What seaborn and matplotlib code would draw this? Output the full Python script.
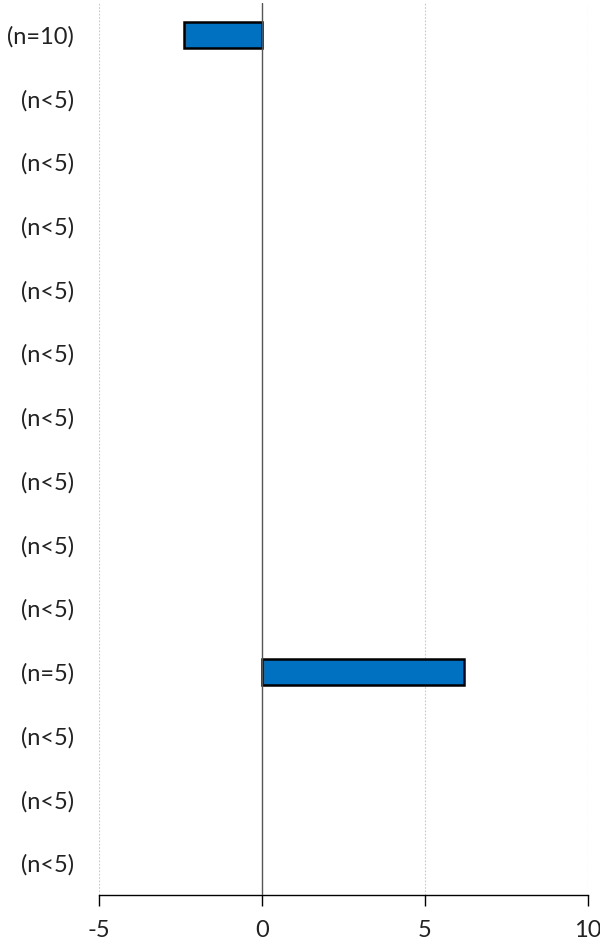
import matplotlib
matplotlib.use("Agg")
import matplotlib.pyplot as plt
import seaborn as sns
import pandas as pd

labels = ["(n=10)", "(n<5)", "(n<5)", "(n<5)", "(n<5)", "(n<5)", "(n<5)",
          "(n<5)", "(n<5)", "(n<5)", "(n=5)", "(n<5)", "(n<5)", "(n<5)"]
values = [-2.4, 0, 0, 0, 0, 0, 0, 0, 0, 0, 6.2, 0, 0, 0]
xticks = [-5, 0, 5, 10]

sns.set_theme(style="white")
plt.rcParams['font.family'] = ['Lato', 'DejaVu Sans']

rows = [f"r{i}" for i in range(len(labels))]
df = pd.DataFrame({"row": rows, "value": values})

fig = plt.figure(figsize=(6.0, 9.44), dpi=100)
ax = fig.add_axes([0.165, 0.052, 0.815, 0.945])

# only non-empty rows get a bar; empty rows stay blank
plot_df = df.copy()
plot_df.loc[plot_df["value"] == 0, "value"] = float("nan")
sns.barplot(data=plot_df, x="value", y="row", order=rows, orient="h",
            color="#0070C0", saturation=1, width=0.41,
            edgecolor="black", linewidth=1.8, ax=ax, zorder=3)

ax.set_xlim(-5, 10)
ax.set_ylim(len(rows) - 0.5, -0.5)
ax.set_xticks(xticks)
ax.set_xticklabels([str(t) for t in xticks], fontsize=17)
ax.set_yticks(range(len(rows)))
ax.set_yticklabels(labels, fontsize=17)
ax.set_xlabel("")
ax.set_ylabel("")

for t in [-5, 5, 10]:
    ax.axvline(t, color="#c8c8c8", linestyle=(0, (1.5, 1.5)), linewidth=0.8, zorder=1)
ax.axvline(0, color="#555555", linewidth=1.0, zorder=4)

for s in ["top", "right", "left"]:
    ax.spines[s].set_visible(False)
ax.spines["bottom"].set_color("black")
ax.spines["bottom"].set_linewidth(1.0)
ax.tick_params(axis="x", direction="out", length=8, width=1, color="black",
               bottom=True, pad=10, labelcolor="#222222")
ax.tick_params(axis="y", length=0, pad=18, labelcolor="#222222")

fig.savefig("out.png", dpi=100)
